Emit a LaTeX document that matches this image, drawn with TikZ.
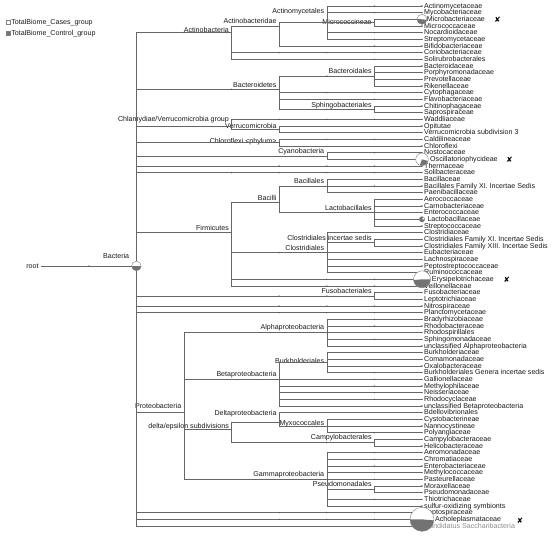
\documentclass[tikz,border=0pt]{standalone}
\usepackage{fontspec}
\setmainfont{Liberation Sans}
\newfontfamily\markfont{DejaVu Sans}
\usetikzlibrary{positioning}

\begin{document}
\begin{tikzpicture}[
    x=1pt, y=-6.6667pt,
    branch/.style={draw=black!60, line width=0.6pt},
    tickdot/.style={fill=black!65},
    txt/.style={inner sep=0pt, font=\fontsize{7.1}{8}\selectfont,
        text=black!90, text height=5.1pt, text depth=1pt},
    leaftext/.style={txt, anchor=west},
    nodetext/.style={txt, anchor=east, xshift=-2.5pt},
    pieedge/.style={draw=black!50, line width=0.4pt},
    ctrl/.style={fill=black!55},
    xmark/.style={inner sep=0pt, font=\markfont\fontsize{7.5}{8}\selectfont},
    keybox/.style={draw=black!50, line width=0.4pt, minimum size=4pt, inner sep=0pt},
    % label offsets of leaves that carry a pie
    leaf3/.style={xshift=2.7pt},
    leaf24/.style={xshift=6pt},
    leaf33/.style={xshift=3.3pt},
    leaf42/.style={xshift=7.7pt},
    leaf78/.style={xshift=11pt},
    leaf79/.style={text=black!45}
]
\useasboundingbox (0,0.1) rectangle (558,80.5);

%% ─── LEAVES ──────────────────────────────────────────────────
\foreach \name [count=\i] in {Actinomycetaceae, Mycobacteriaceae, Microbacteriaceae,
    Micrococcaceae, Nocardioidaceae, Streptomycetaceae, Bifidobacteriaceae,
    Coriobacteriaceae, Solirubrobacterales, Bacteroidaceae, Porphyromonadaceae,
    Prevotellaceae, Rikenellaceae, Cytophagaceae, Flavobacteriaceae, Chitinophagaceae,
    Saprospiraceae, Waddliaceae, Opitutae, Verrucomicrobia subdivision 3,
    Caldilineaceae, Chloroflexi, Nostocaceae, Oscillatoriophycideae, Thermaceae,
    Solibacteraceae, Bacillaceae, Bacillales Family XI. Incertae Sedis,
    Paenibacillaceae, Aerococcaceae, Carnobacteriaceae, Enterococcaceae,
    Lactobacillaceae, Streptococcaceae, Clostridiaceae,
    Clostridiales Family XI. Incertae Sedis, Clostridiales Family XIII. Incertae Sedis,
    Eubacteriaceae, Lachnospiraceae, Peptostreptococcaceae, Ruminococcaceae,
    Erysipelotrichaceae, Veillonellaceae, Fusobacteriaceae, Leptotrichiaceae,
    Nitrospiraceae, Planctomycetaceae, Bradyrhizobiaceae, Rhodobacteraceae,
    Rhodospirillales, Sphingomonadaceae, unclassified Alphaproteobacteria,
    Burkholderiaceae, Comamonadaceae, Oxalobacteraceae,
    Burkholderiales Genera incertae sedis, Gallionellaceae, Methylophilaceae,
    Neisseriaceae, Rhodocyclaceae, unclassified Betaproteobacteria, Bdellovibrionales,
    Cystobacterineae, Nannocystineae, Polyangiaceae, Campylobacteraceae,
    Helicobacteraceae, Aeromonadaceae, Chromatiaceae, Enterobacteriaceae,
    Methylococcaceae, Pasteurellaceae, Moraxellaceae, Pseudomonadaceae,
    Thiotrichaceae, sulfur-oxidizing symbionts, Leptospiraceae,
    Acholeplasmataceae, Candidatus Saccharibacteria} {
  \coordinate (l\i) at (422,\i);
  \node[leaftext, leaf\i/.try] (t\i) at ([xshift=2pt]l\i) {\name};
}

%% ─── INNER NODES (x by height, y by leaf span) ───────────────
\coordinate (root) at (41.2,40);
\node[nodetext, xshift=0pt] (root-l) at (root) {root};
\coordinate (Bacteria) at (136.4,40);
\node[nodetext, xshift=-4.5pt] (Bacteria-l) at ([yshift=9.3pt]Bacteria) {Bacteria};

\coordinate (Actinobacteria) at (231.6,5);
\node[nodetext] (Actinobacteria-l) at ([yshift=2.5pt]Actinobacteria) {Actinobacteria};
\coordinate (Actinobacteridae) at (279.2,4);
\node[nodetext] (Actinobacteridae-l) at ([yshift=5pt]Actinobacteridae) {Actinobacteridae};
\coordinate (Actinomycetales) at (326.8,3.5);
\node[nodetext] (Actinomycetales-l) at ([yshift=11pt]Actinomycetales) {Actinomycetales};
\coordinate (Micrococcineae) at (374.4,3.5);
\node[nodetext] (Micrococcineae-l) at ([yshift=0.5pt]Micrococcineae) {Micrococcineae};

\coordinate (Bacteroidetes) at (279.2,13.5);
\node[nodetext] (Bacteroidetes-l) at ([yshift=4.3pt]Bacteroidetes) {Bacteroidetes};
\coordinate (Bacteroidales) at (374.4,11.5);
\node[nodetext] (Bacteroidales-l) at ([yshift=4.5pt]Bacteroidales) {Bacteroidales};
\coordinate (Sphingobacteriales) at (374.4,16.5);
\node[nodetext] (Sphingobacteriales-l) at ([yshift=4pt]Sphingobacteriales) {Sphingobacteriales};

\coordinate (ChlamVerr) at (231.6,19);
\node[nodetext] (ChlamVerr-l) at ([yshift=7pt]ChlamVerr) {Chlamydiae/Verrucomicrobia group};
\coordinate (Verrucomicrobia) at (279.2,19.5);
\node[nodetext] (Verrucomicrobia-l) at ([yshift=3pt]Verrucomicrobia) {Verrucomicrobia};
\coordinate (Chloroflexi) at (279.2,21.5);
\node[nodetext] (Chloroflexi-l) at ([yshift=1pt]Chloroflexi) {Chloroflexi <phylum>};
\coordinate (Cyanobacteria) at (326.8,23.5);
\node[nodetext] (Cyanobacteria-l) at ([yshift=4.7pt]Cyanobacteria) {Cyanobacteria};

\coordinate (Firmicutes) at (231.6,35);
\node[nodetext] (Firmicutes-l) at ([yshift=4.4pt]Firmicutes) {Firmicutes};
\coordinate (Bacilli) at (279.2,30.5);
\node[nodetext] (Bacilli-l) at ([yshift=4.4pt]Bacilli) {Bacilli};
\coordinate (Bacillales) at (326.8,28);
\node[nodetext] (Bacillales-l) at ([yshift=4.3pt]Bacillales) {Bacillales};
\coordinate (Lactobacillales) at (374.4,32);
\node[nodetext] (Lactobacillales-l) at ([yshift=4.4pt]Lactobacillales) {Lactobacillales};
\coordinate (Clostridiales) at (326.8,38);
\node[nodetext] (Clostridiales-l) at ([yshift=4.4pt]Clostridiales) {Clostridiales};
\coordinate (ClostIS) at (374.4,36.5);
\node[nodetext] (ClostIS-l) at ([yshift=4.4pt]ClostIS) {Clostridiales incertae sedis};
\coordinate (Fusobacteriales) at (374.4,44.5);
\node[nodetext] (Fusobacteriales-l) at ([yshift=4.3pt]Fusobacteriales) {Fusobacteriales};

\coordinate (Proteobacteria) at (184,62);
\node[nodetext] (Proteobacteria-l) at ([yshift=6pt]Proteobacteria) {Proteobacteria};
\coordinate (Alphaproteobacteria) at (326.8,50);
\node[nodetext] (Alphaproteobacteria-l) at ([yshift=5pt]Alphaproteobacteria) {Alphaproteobacteria};
\coordinate (Betaproteobacteria) at (279.2,57);
\node[nodetext] (Betaproteobacteria-l) at ([yshift=5pt]Betaproteobacteria) {Betaproteobacteria};
\coordinate (Burkholderiales) at (326.8,54.5);
\node[nodetext] (Burkholderiales-l) at ([yshift=1.3pt]Burkholderiales) {Burkholderiales};
\coordinate (DeltaEps) at (231.6,64.5);
\node[nodetext] (DeltaEps-l) at ([yshift=3.3pt]DeltaEps) {delta/epsilon subdivisions};
\coordinate (Deltaproteobacteria) at (279.2,63.5);
\node[nodetext] (Deltaproteobacteria-l) at ([yshift=9.4pt]Deltaproteobacteria) {Deltaproteobacteria};
\coordinate (Myxococcales) at (326.8,64);
\node[nodetext] (Myxococcales-l) at ([yshift=2.7pt]Myxococcales) {Myxococcales};
\coordinate (Campylobacterales) at (374.4,66.5);
\node[nodetext] (Campylobacterales-l) at ([yshift=5pt]Campylobacterales) {Campylobacterales};
\coordinate (Gammaproteobacteria) at (326.8,72);
\node[nodetext] (Gammaproteobacteria-l) at ([yshift=5pt]Gammaproteobacteria) {Gammaproteobacteria};
\coordinate (Pseudomonadales) at (374.4,73.5);
\node[nodetext] (Pseudomonadales-l) at ([yshift=5pt]Pseudomonadales) {Pseudomonadales};

%% ─── BRANCHES (parent/child/hidden single-child ranks) ───────
\foreach \p/\c/\k in {root/Bacteria/1,
    Bacteria/Actinobacteria/1, Bacteria/Bacteroidetes/1, Bacteria/ChlamVerr/0,
    Bacteria/Chloroflexi/0, Bacteria/Cyanobacteria/0, Bacteria/l25/3, Bacteria/l26/4,
    Bacteria/Firmicutes/0, Bacteria/Fusobacteriales/2, Bacteria/l46/3, Bacteria/l47/3,
    Bacteria/Proteobacteria/0, Bacteria/l77/3, Bacteria/l78/3, Bacteria/l79/0,
    Actinobacteria/Actinobacteridae/0, Actinobacteria/l8/3, Actinobacteria/l9/1,
    Actinobacteridae/Actinomycetales/0, Actinobacteridae/l7/1,
    Actinomycetales/l1/1, Actinomycetales/l2/1, Actinomycetales/Micrococcineae/0,
    Actinomycetales/l5/1, Actinomycetales/l6/1, Micrococcineae/l3/0, Micrococcineae/l4/0,
    Bacteroidetes/Bacteroidales/1, Bacteroidetes/l14/2, Bacteroidetes/l15/2,
    Bacteroidetes/Sphingobacteriales/1,
    Bacteroidales/l10/0, Bacteroidales/l11/0, Bacteroidales/l12/0, Bacteroidales/l13/0,
    Sphingobacteriales/l16/0, Sphingobacteriales/l17/0,
    ChlamVerr/l18/3, ChlamVerr/Verrucomicrobia/0,
    Verrucomicrobia/l19/0, Verrucomicrobia/l20/0,
    Chloroflexi/l21/2, Chloroflexi/l22/0, Cyanobacteria/l23/1, Cyanobacteria/l24/0,
    Firmicutes/Bacilli/0, Firmicutes/Clostridiales/1, Firmicutes/l42/2, Firmicutes/l43/2,
    Bacilli/Bacillales/0, Bacilli/Lactobacillales/0,
    Bacillales/l27/0, Bacillales/l28/1, Bacillales/l29/0,
    Lactobacillales/l30/0, Lactobacillales/l31/0, Lactobacillales/l32/0,
    Lactobacillales/l33/0, Lactobacillales/l34/0,
    Clostridiales/l35/0, Clostridiales/ClostIS/0, Clostridiales/l38/0,
    Clostridiales/l39/0, Clostridiales/l40/0, Clostridiales/l41/0,
    ClostIS/l36/0, ClostIS/l37/0, Fusobacteriales/l44/0, Fusobacteriales/l45/0,
    Proteobacteria/Alphaproteobacteria/0, Proteobacteria/Betaproteobacteria/0,
    Proteobacteria/DeltaEps/0, Proteobacteria/Gammaproteobacteria/0,
    Alphaproteobacteria/l48/1, Alphaproteobacteria/l49/1, Alphaproteobacteria/l50/0,
    Alphaproteobacteria/l51/1, Alphaproteobacteria/l52/0,
    Betaproteobacteria/Burkholderiales/0, Betaproteobacteria/l57/1,
    Betaproteobacteria/l58/1, Betaproteobacteria/l59/1, Betaproteobacteria/l60/1,
    Betaproteobacteria/l61/0,
    Burkholderiales/l53/0, Burkholderiales/l54/0, Burkholderiales/l55/0,
    Burkholderiales/l56/1,
    DeltaEps/Deltaproteobacteria/0, DeltaEps/Campylobacterales/1,
    Deltaproteobacteria/l62/0, Deltaproteobacteria/Myxococcales/0,
    Myxococcales/l63/0, Myxococcales/l64/0, Myxococcales/l65/1,
    Campylobacterales/l66/0, Campylobacterales/l67/0,
    Gammaproteobacteria/l68/1, Gammaproteobacteria/l69/1, Gammaproteobacteria/l70/1,
    Gammaproteobacteria/l71/1, Gammaproteobacteria/l72/1,
    Gammaproteobacteria/Pseudomonadales/0, Gammaproteobacteria/l75/1,
    Gammaproteobacteria/l76/0, Pseudomonadales/l73/0, Pseudomonadales/l74/0} {
  \draw[branch] (\p) |- (\c);
  \ifnum\k>0
    \foreach \j in {1,...,\k} \fill[tickdot] (\c) ++(-47.6*\j,0) circle[radius=0.75pt];
  \fi
}
\foreach \i in {1,...,79} \fill[tickdot] (l\i) circle[radius=0.8pt];

%% ─── PIES (white = cases, grey = control) ────────────────────
\foreach \c/\r/\a/\b in {Bacteria/4.8/180/360, l3/5/175/355, l24/6.3/250/345,
    l33/2.7/60/360, l42/8.5/185/360, l78/12/180/355} {
  \fill[white] (\c) circle[radius=\r pt];
  \fill[ctrl] (\c) -- ++(\a:\r pt) arc[start angle=\a, end angle=\b, radius=\r pt] -- cycle;
  \draw[pieedge] (\c) circle[radius=\r pt];
}

%% ─── MARKS ───────────────────────────────────────────────────
\node[xmark] (x3)  at ([xshift=75.5pt]l3)  {✘};
\node[xmark] (x24) at ([xshift=87.5pt]l24) {✘};
\node[xmark] (x42) at ([xshift=84.7pt]l42) {✘};
\node[xmark] (x78) at ([xshift=98pt, yshift=-1.5pt]l78) {✘};

%% ─── LEGEND ──────────────────────────────────────────────────
\node[keybox, fill=white] (casebox) at (8,3.5) {};
\node[leaftext, right=1pt of casebox] (caselab) {TotalBiome\_Cases\_group};
\node[keybox, fill=black!55] (ctrlbox) at (8,5.15) {};
\node[leaftext, right=1pt of ctrlbox] (ctrllab) {TotalBiome\_Control\_group};

\end{tikzpicture}
\end{document}
